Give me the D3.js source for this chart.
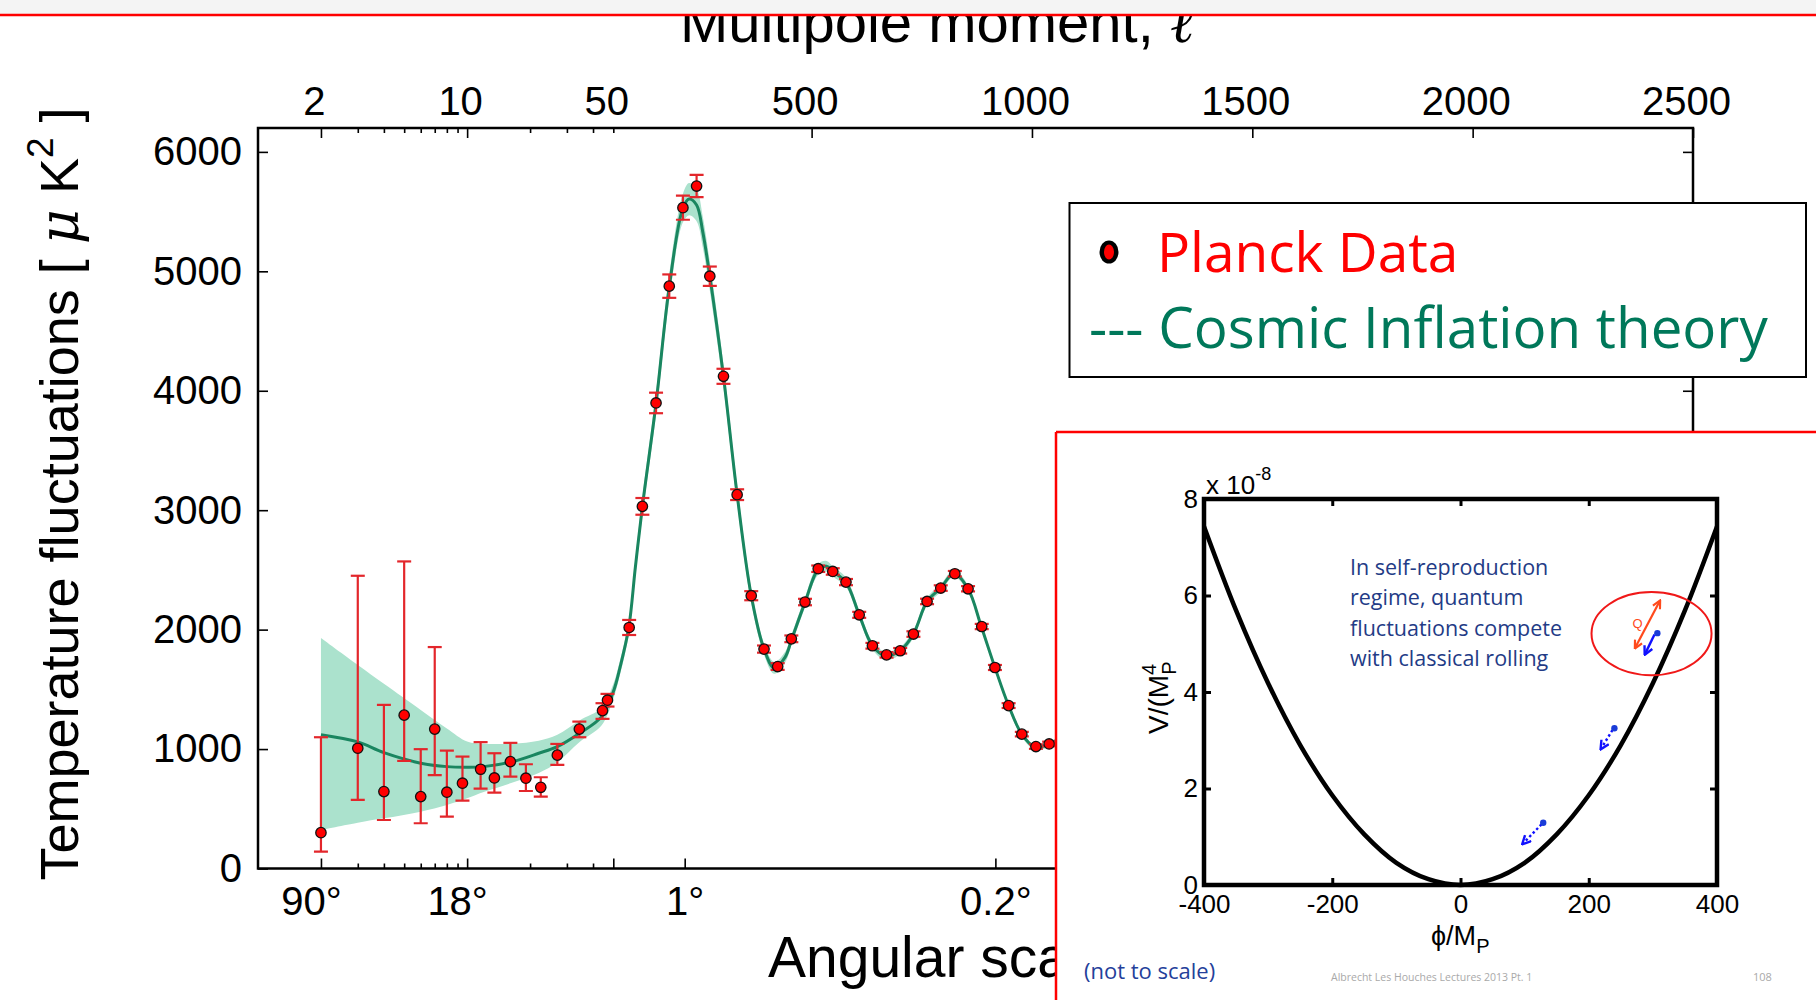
<!DOCTYPE html>
<html>
<head>
<meta charset="utf-8">
<script src="https://cdn.jsdelivr.net/npm/d3@7"></script>
<style>
  html, body { margin: 0; padding: 0; background: #fff; overflow: hidden; }
  svg { display: block; }
</style>
</head>
<body>
<svg id="chart" width="1816" height="1000"></svg>
<script>
// ---------- CMB temperature power spectrum (D_l in µK²) ----------
// Low multipoles (log-scaled part of the x axis), asymmetric error bars
const lowL  = [2, 3, 4, 5, 6, 7, 8, 9.5, 11.6, 13.5, 16.1, 19.1, 22.5, 27, 34.4, 44.4, 46.9];
const lowD  = [300, 1007, 644, 1284, 602, 1167, 639, 714, 831, 758, 895, 756, 680, 949, 1167, 1322, 1409];
const lowLo = [141, 574, 406, 901, 379, 781, 434, 568, 669, 635, 769, 649, 602, 867, 1099, 1253, 1356];
const lowHi = [1099, 2451, 1370, 2571, 999, 1854, 987, 937, 1058, 965, 1052, 873, 764, 1043, 1230, 1384, 1462];

// Binned high multipoles (linear part of the x axis), symmetric errors
const highL   = [86, 116, 147, 177, 208, 239, 269, 300, 331, 363, 392, 423, 454, 485, 515, 548, 578, 608, 638, 670, 701, 731, 762, 793, 825, 855, 886, 916, 947, 977, 1009, 1039];
const highD   = [2018, 3032, 3898, 4876, 5533, 5714, 4959, 4121, 3130, 2284, 1837, 1691, 1923, 2231, 2510, 2487, 2398, 2124, 1865, 1789, 1823, 1963, 2236, 2348, 2468, 2342, 2026, 1683, 1364, 1125, 1021, 1043];
const highErr = [63, 70, 86, 98, 101, 93, 81, 63, 45, 38, 30, 28, 28, 27, 27, 27, 26, 25, 24, 23, 23, 23, 23, 23, 23, 22, 22, 21, 20, 19, 19, 19];

// Best-fit model curve and its cosmic-variance band
const theoryL  = [2, 3, 4, 6, 8, 10, 12, 16.5, 22, 27, 34.5, 44, 50, 65, 85, 100, 116, 147, 177, 208, 222, 239, 253, 269, 300, 331, 363, 392, 415, 440, 455, 485, 515, 534, 548, 578, 608, 638, 668, 701, 731, 762, 793, 823, 855, 885, 916, 947, 977, 1007, 1039, 1075, 1110];
const theoryD  = [1120, 1060, 970, 882, 853, 848, 853, 895, 965, 1021, 1133, 1272, 1480, 1680, 2015, 2520, 3030, 3895, 4870, 5530, 5605, 5555, 5330, 4960, 4120, 3130, 2285, 1838, 1680, 1770, 1922, 2228, 2505, 2530, 2487, 2396, 2124, 1866, 1780, 1824, 1963, 2236, 2349, 2470, 2342, 2026, 1683, 1364, 1125, 1015, 1040, 1110, 1140];
const theoryLo = [323, 384, 420, 476, 532, 588, 640, 720, 800, 890, 1060, 1200, 1420, 1620, 1955, 2450, 2950, 3800, 4760, 5410, 5470, 5420, 5200, 4840, 4020, 3050, 2225, 1790, 1630, 1725, 1880, 2185, 2460, 2485, 2445, 2356, 2088, 1832, 1746, 1792, 1931, 2204, 2318, 2440, 2312, 1998, 1657, 1340, 1102, 993, 1018, 1087, 1117];
const theoryHi = [1929, 1703, 1546, 1328, 1172, 1063, 1045, 1045, 1070, 1120, 1240, 1345, 1545, 1740, 2075, 2590, 3110, 3990, 4980, 5650, 5740, 5690, 5460, 5080, 4220, 3210, 2345, 1886, 1730, 1815, 1964, 2271, 2550, 2575, 2529, 2436, 2160, 1900, 1814, 1856, 1995, 2268, 2380, 2500, 2372, 2054, 1709, 1388, 1148, 1037, 1062, 1133, 1163];

// Axis ticks
const yTicks           = [0, 1000, 2000, 3000, 4000, 5000, 6000];
const topLogLabelled   = [2, 10, 50];
const topLinLabelled   = [500, 1000, 1500, 2000, 2500];
const logMinorTicks    = [3, 4, 5, 6, 7, 8, 9, 20, 30, 40];
const angularTickL     = [2, 10, 212, 917];
const angularTickNames = ["90°", "18°", "1°", "0.2°"];

// ---------- Inflaton potential panel ----------
const phiTicks     = [-400, -200, 0, 200, 400];
const vTicks       = [0, 2, 4, 6, 8];
const potentialPhi = [-400, -350, -300, -250, -200, -150, -100, -50, 0, 50, 100, 150, 200, 250, 300, 350, 400];
const potentialV   = [7.43, 5.69, 4.18, 2.90, 1.86, 1.05, 0.46, 0.12, 0, 0.12, 0.46, 1.05, 1.86, 2.90, 4.18, 5.69, 7.43];
const fieldPhi     = [307, 240, 129];
const fieldV       = [5.22, 3.25, 1.29];
// classical roll arrows: [phi0, V0, phi1, V1, dotted]
const rollArrows   = [[302.5, 5.19, 287.9, 4.79, false], [237, 3.21, 219.3, 2.83, true], [126.3, 1.256, 97.3, 0.858, true]];
const quantumArrow = [272.6, 4.92, 310.6, 5.88];
const regimeEllipse = { phi: 297.9, v: 5.21, dPhi: 93.6, dV: 0.862 };
const regimeNote = ["In self-reproduction", "regime, quantum", "fluctuations compete", "with classical rolling"];

// ---------- drawing ----------
const W = 1816, H = 1000;
const SANS = "'Liberation Sans', Arial, sans-serif";
const CAL = "'Open Sans', 'Noto Sans', sans-serif";
const svg = d3.select("#chart");
svg.append("rect").attr("width", W).attr("height", H).attr("fill", "#fff");

const defs = svg.append("defs");
const plot = { left: 258, right: 1693, top: 128, bottom: 868.5, split: 613.3 };
defs.append("clipPath").attr("id", "plotClip").append("rect")
  .attr("x", plot.left).attr("y", plot.top)
  .attr("width", plot.right - plot.left).attr("height", plot.bottom - plot.top);

const xLog = d3.scaleLog().domain([1, 50]).range([plot.left, plot.split]);
const xLin = d3.scaleLinear().domain([50, 2500]).range([plot.split, plot.right]);
const xPos = l => (l <= 50 ? xLog(l) : xLin(l));
const y = d3.scaleLinear().domain([0, 6200]).range([plot.bottom, plot.top]);

// top title (partly hidden under the slide header strip)
const title = svg.append("text")
  .attr("x", 937).attr("y", 42).attr("text-anchor", "middle")
  .attr("font-family", SANS).attr("font-size", 58).attr("fill", "#000")
  .text("Multipole moment, ");
title.append("tspan").attr("font-family", "'DejaVu Serif', serif").attr("font-style", "italic").text("ℓ");

// band + model curve
const theory = theoryL.map((l, i) => ({ l, d: theoryD[i], lo: theoryLo[i], hi: theoryHi[i] }));
const gData = svg.append("g").attr("clip-path", "url(#plotClip)");
gData.append("path").datum(theory)
  .attr("d", d3.area().x(d => xPos(d.l)).y0(d => y(d.lo)).y1(d => y(d.hi)).curve(d3.curveCatmullRom))
  .attr("fill", "#abe2cd");
gData.append("path").datum(theory)
  .attr("d", d3.line().x(d => xPos(d.l)).y(d => y(d.d)).curve(d3.curveCatmullRom))
  .attr("fill", "none").attr("stroke", "#1a8660").attr("stroke-width", 3);

// data points with error bars
const points = lowL.map((l, i) => ({ l, d: lowD[i], lo: lowLo[i], hi: lowHi[i] }))
  .concat(highL.map((l, i) => ({ l, d: highD[i], lo: highD[i] - highErr[i], hi: highD[i] + highErr[i] })));
const bars = gData.append("g").attr("stroke", "#e3262b").attr("stroke-width", 2.2);
points.forEach(p => {
  const px = xPos(p.l);
  bars.append("line").attr("x1", px).attr("x2", px).attr("y1", y(p.lo)).attr("y2", y(p.hi));
  bars.append("line").attr("x1", px - 7).attr("x2", px + 7).attr("y1", y(p.lo)).attr("y2", y(p.lo));
  bars.append("line").attr("x1", px - 7).attr("x2", px + 7).attr("y1", y(p.hi)).attr("y2", y(p.hi));
});
gData.append("g").selectAll("circle").data(points).join("circle")
  .attr("cx", d => xPos(d.l)).attr("cy", d => y(d.d)).attr("r", 5.2)
  .attr("fill", "#ff0000").attr("stroke", "#111").attr("stroke-width", 1.3);

// axes
function styleAxis(g, size) {
  g.select(".domain").remove();
  g.attr("font-family", SANS).attr("font-size", size);
  g.selectAll(".tick line").attr("stroke", "#000").attr("stroke-width", 1.6);
  g.selectAll(".tick text").attr("fill", "#000");
  return g;
}
const gTop = svg.append("g").attr("transform", `translate(0,${plot.top})`);
const topLog = gTop.append("g").call(d3.axisTop(xLog).tickValues(topLogLabelled).tickSize(-10).tickPadding(13).tickFormat(d3.format("d")));
styleAxis(topLog, 40);
topLog.selectAll(".tick").filter(d => d === 50).select("line").attr("y2", 5);
styleAxis(gTop.append("g").call(d3.axisTop(xLog).tickValues(logMinorTicks).tickSize(-5).tickFormat("")), 40);
styleAxis(gTop.append("g").call(d3.axisTop(xLin).tickValues(topLinLabelled).tickSize(-10).tickPadding(13).tickFormat(d3.format("d"))), 40);
gTop.selectAll(".tick text").attr("dx", -7);

const gBot = svg.append("g").attr("transform", `translate(0,${plot.bottom})`);
const angName = l => angularTickNames[angularTickL.indexOf(l)];
const botLog = styleAxis(gBot.append("g").call(d3.axisBottom(xLog).tickValues(angularTickL.filter(l => l <= 50)).tickSize(-10).tickPadding(18).tickFormat(angName)), 40);
botLog.selectAll(".tick text").attr("dx", -10);
styleAxis(gBot.append("g").call(d3.axisBottom(xLog).tickValues(logMinorTicks).tickSize(-5).tickFormat("")), 40);
styleAxis(gBot.append("g").call(d3.axisBottom(xLog).tickValues([50]).tickSize(-10).tickFormat("")), 40);
styleAxis(gBot.append("g").call(d3.axisBottom(xLin).tickValues(angularTickL.filter(l => l > 50)).tickSize(-10).tickPadding(18).tickFormat(angName)), 40);

styleAxis(svg.append("g").attr("transform", `translate(${plot.left},0)`)
  .call(d3.axisLeft(y).tickValues(yTicks).tickSize(-10).tickPadding(16).tickFormat(d3.format("d"))), 40);
styleAxis(svg.append("g").attr("transform", `translate(${plot.right},0)`)
  .call(d3.axisRight(y).tickValues(yTicks).tickSize(-10).tickFormat("")), 40);

svg.append("rect").attr("x", plot.left).attr("y", plot.top)
  .attr("width", plot.right - plot.left).attr("height", plot.bottom - plot.top)
  .attr("fill", "none").attr("stroke", "#000").attr("stroke-width", 2.5);

// axis titles
const yTitle = svg.append("text")
  .attr("transform", "translate(78,494) rotate(-90)").attr("text-anchor", "middle")
  .attr("font-family", SANS).attr("font-size", 54).attr("fill", "#000")
  .text("Temperature fluctuations [ ");
yTitle.append("tspan").attr("font-style", "italic").attr("font-family", "'DejaVu Serif', serif").text("μ");
yTitle.append("tspan").text(" K");
yTitle.append("tspan").attr("font-size", 37).attr("dy", -25).text("2");
yTitle.append("tspan").attr("dy", 25).text(" ]");

svg.append("text").attr("x", 768).attr("y", 977)
  .attr("font-family", SANS).attr("font-size", 57).attr("fill", "#000")
  .text("Angular scale");

// legend
svg.append("rect").attr("x", 1069.5).attr("y", 203).attr("width", 736.5).attr("height", 174)
  .attr("fill", "#fff").attr("stroke", "#000").attr("stroke-width", 2);
svg.append("ellipse").attr("cx", 1109).attr("cy", 252).attr("rx", 9.5).attr("ry", 11.5).attr("fill", "#000");
svg.append("ellipse").attr("cx", 1109).attr("cy", 252).attr("rx", 5).attr("ry", 7.5).attr("fill", "#ff0000");
svg.append("text").attr("x", 1157).attr("y", 272)
  .attr("font-family", CAL).attr("font-size", 55).attr("fill", "#ff0000").text("Planck Data");
svg.append("text").attr("x", 1089).attr("y", 348)
  .attr("font-family", CAL).attr("font-size", 56.5).attr("fill", "#00785a").text("--- Cosmic Inflation theory");

// ---------- potential panel ----------
svg.append("rect").attr("x", 1056).attr("y", 432).attr("width", W - 1056).attr("height", H - 432).attr("fill", "#fff");
svg.append("line").attr("x1", 1056).attr("x2", 1056).attr("y1", 432).attr("y2", H).attr("stroke", "#ff0000").attr("stroke-width", 2.5);
svg.append("line").attr("x1", 1056).attr("x2", W).attr("y1", 432).attr("y2", 432).attr("stroke", "#ff0000").attr("stroke-width", 2.5);

const phi = d3.scaleLinear().domain([-400, 400]).range([1204, 1717]);
const pot = d3.scaleLinear().domain([0, 8]).range([885, 499]);

function styleInset(g) {
  g.select(".domain").remove();
  g.attr("font-family", SANS).attr("font-size", 26);
  g.selectAll(".tick line").attr("stroke", "#000").attr("stroke-width", 3);
  g.selectAll(".tick text").attr("fill", "#000");
}
const plainNum = d => String(d);
styleInset(svg.append("g").attr("transform", "translate(0,885)")
  .call(d3.axisBottom(phi).tickValues(phiTicks).tickSize(-7).tickPadding(10).tickFormat(plainNum)));
styleInset(svg.append("g").attr("transform", "translate(0,499)")
  .call(d3.axisTop(phi).tickValues(phiTicks).tickSize(-7).tickFormat("")));
styleInset(svg.append("g").attr("transform", "translate(1204,0)")
  .call(d3.axisLeft(pot).tickValues(vTicks).tickSize(-7).tickPadding(6).tickFormat(plainNum)));
styleInset(svg.append("g").attr("transform", "translate(1717,0)")
  .call(d3.axisRight(pot).tickValues(vTicks).tickSize(-7).tickFormat("")));

const potential = potentialPhi.map((p, i) => ({ p, v: potentialV[i] }));
svg.append("path").datum(potential)
  .attr("d", d3.line().x(d => phi(d.p)).y(d => pot(d.v)).curve(d3.curveCatmullRom))
  .attr("fill", "none").attr("stroke", "#000").attr("stroke-width", 4.5);
svg.append("rect").attr("x", phi(-400)).attr("y", pot(8))
  .attr("width", phi(400) - phi(-400)).attr("height", pot(0) - pot(8))
  .attr("fill", "none").attr("stroke", "#000").attr("stroke-width", 4.5);

const exp = svg.append("text").attr("x", 1206).attr("y", 494)
  .attr("font-family", SANS).attr("font-size", 26).attr("fill", "#000").text("x 10");
exp.append("tspan").attr("font-size", 18).attr("dy", -14).text("-8");

const vLabel = svg.append("text").attr("transform", "translate(1168,734) rotate(-90)")
  .attr("font-family", SANS).attr("font-size", 28).attr("fill", "#000").text("V/(M");
vLabel.append("tspan").attr("font-size", 20).attr("dy", -12).text("4");
vLabel.append("tspan").attr("font-size", 20).attr("dx", -11).attr("dy", 20).text("P");

const phiLabel = svg.append("text").attr("x", 1431).attr("y", 945)
  .attr("font-family", SANS).attr("font-size", 27).attr("fill", "#000").text("ϕ/M");
phiLabel.append("tspan").attr("font-size", 20).attr("dy", 8).text("P");

// self-reproduction regime
svg.append("ellipse")
  .attr("cx", phi(regimeEllipse.phi)).attr("cy", pot(regimeEllipse.v))
  .attr("rx", phi(regimeEllipse.phi + regimeEllipse.dPhi) - phi(regimeEllipse.phi))
  .attr("ry", pot(regimeEllipse.v) - pot(regimeEllipse.v + regimeEllipse.dV))
  .attr("fill", "none").attr("stroke", "#f01818").attr("stroke-width", 2);

function marker(id, color) {
  defs.append("marker").attr("id", id).attr("viewBox", "0 0 10 10")
    .attr("refX", 8).attr("refY", 5).attr("markerWidth", 4.5).attr("markerHeight", 4.5)
    .attr("orient", "auto-start-reverse")
    .append("path").attr("d", "M1,1L9,5L1,9").attr("fill", "none")
    .attr("stroke", color).attr("stroke-width", 2.2);
}
marker("headBlue", "#1010ff");
marker("headRed", "#ff4a1c");

rollArrows.forEach(a => {
  svg.append("line").attr("x1", phi(a[0])).attr("y1", pot(a[1])).attr("x2", phi(a[2])).attr("y2", pot(a[3]))
    .attr("stroke", "#1010ff").attr("stroke-width", 2.4)
    .attr("stroke-dasharray", a[4] ? "2.5,2.5" : null)
    .attr("marker-end", "url(#headBlue)");
});
svg.append("line")
  .attr("x1", phi(quantumArrow[0])).attr("y1", pot(quantumArrow[1]))
  .attr("x2", phi(quantumArrow[2])).attr("y2", pot(quantumArrow[3]))
  .attr("stroke", "#ff4a1c").attr("stroke-width", 2.2)
  .attr("marker-start", "url(#headRed)").attr("marker-end", "url(#headRed)");
svg.append("text").attr("x", phi(276)).attr("y", pot(5.42) + 5).attr("text-anchor", "middle")
  .attr("font-family", SANS).attr("font-size", 13).attr("fill", "#ff4a1c").text("Q");
svg.append("g").selectAll("circle").data(fieldPhi).join("circle")
  .attr("cx", d => phi(d)).attr("cy", (d, i) => pot(fieldV[i])).attr("r", 3.2).attr("fill", "#1a3cd8");

svg.append("g").selectAll("text").data(regimeNote).join("text")
  .attr("x", 1350).attr("y", (d, i) => 575 + i * 30.4)
  .attr("font-family", CAL).attr("font-size", 21.5).attr("fill", "#233b86").text(d => d);

svg.append("text").attr("x", 1084).attr("y", 979)
  .attr("font-family", CAL).attr("font-size", 22).attr("fill", "#24409a").text("(not to scale)");
svg.append("text").attr("x", 1331).attr("y", 981)
  .attr("font-family", CAL).attr("font-size", 10.5).attr("fill", "#a9a9a9").text("Albrecht Les Houches Lectures 2013 Pt. 1");
svg.append("text").attr("x", 1753).attr("y", 981)
  .attr("font-family", CAL).attr("font-size", 11).attr("fill", "#a9a9a9").text("108");

// slide header strip
svg.append("rect").attr("x", 0).attr("y", 0).attr("width", W).attr("height", 14).attr("fill", "#f4f4f4");
svg.append("line").attr("x1", 0).attr("x2", W).attr("y1", 15).attr("y2", 15).attr("stroke", "#ff0000").attr("stroke-width", 2.5);
</script>
</body>
</html>
